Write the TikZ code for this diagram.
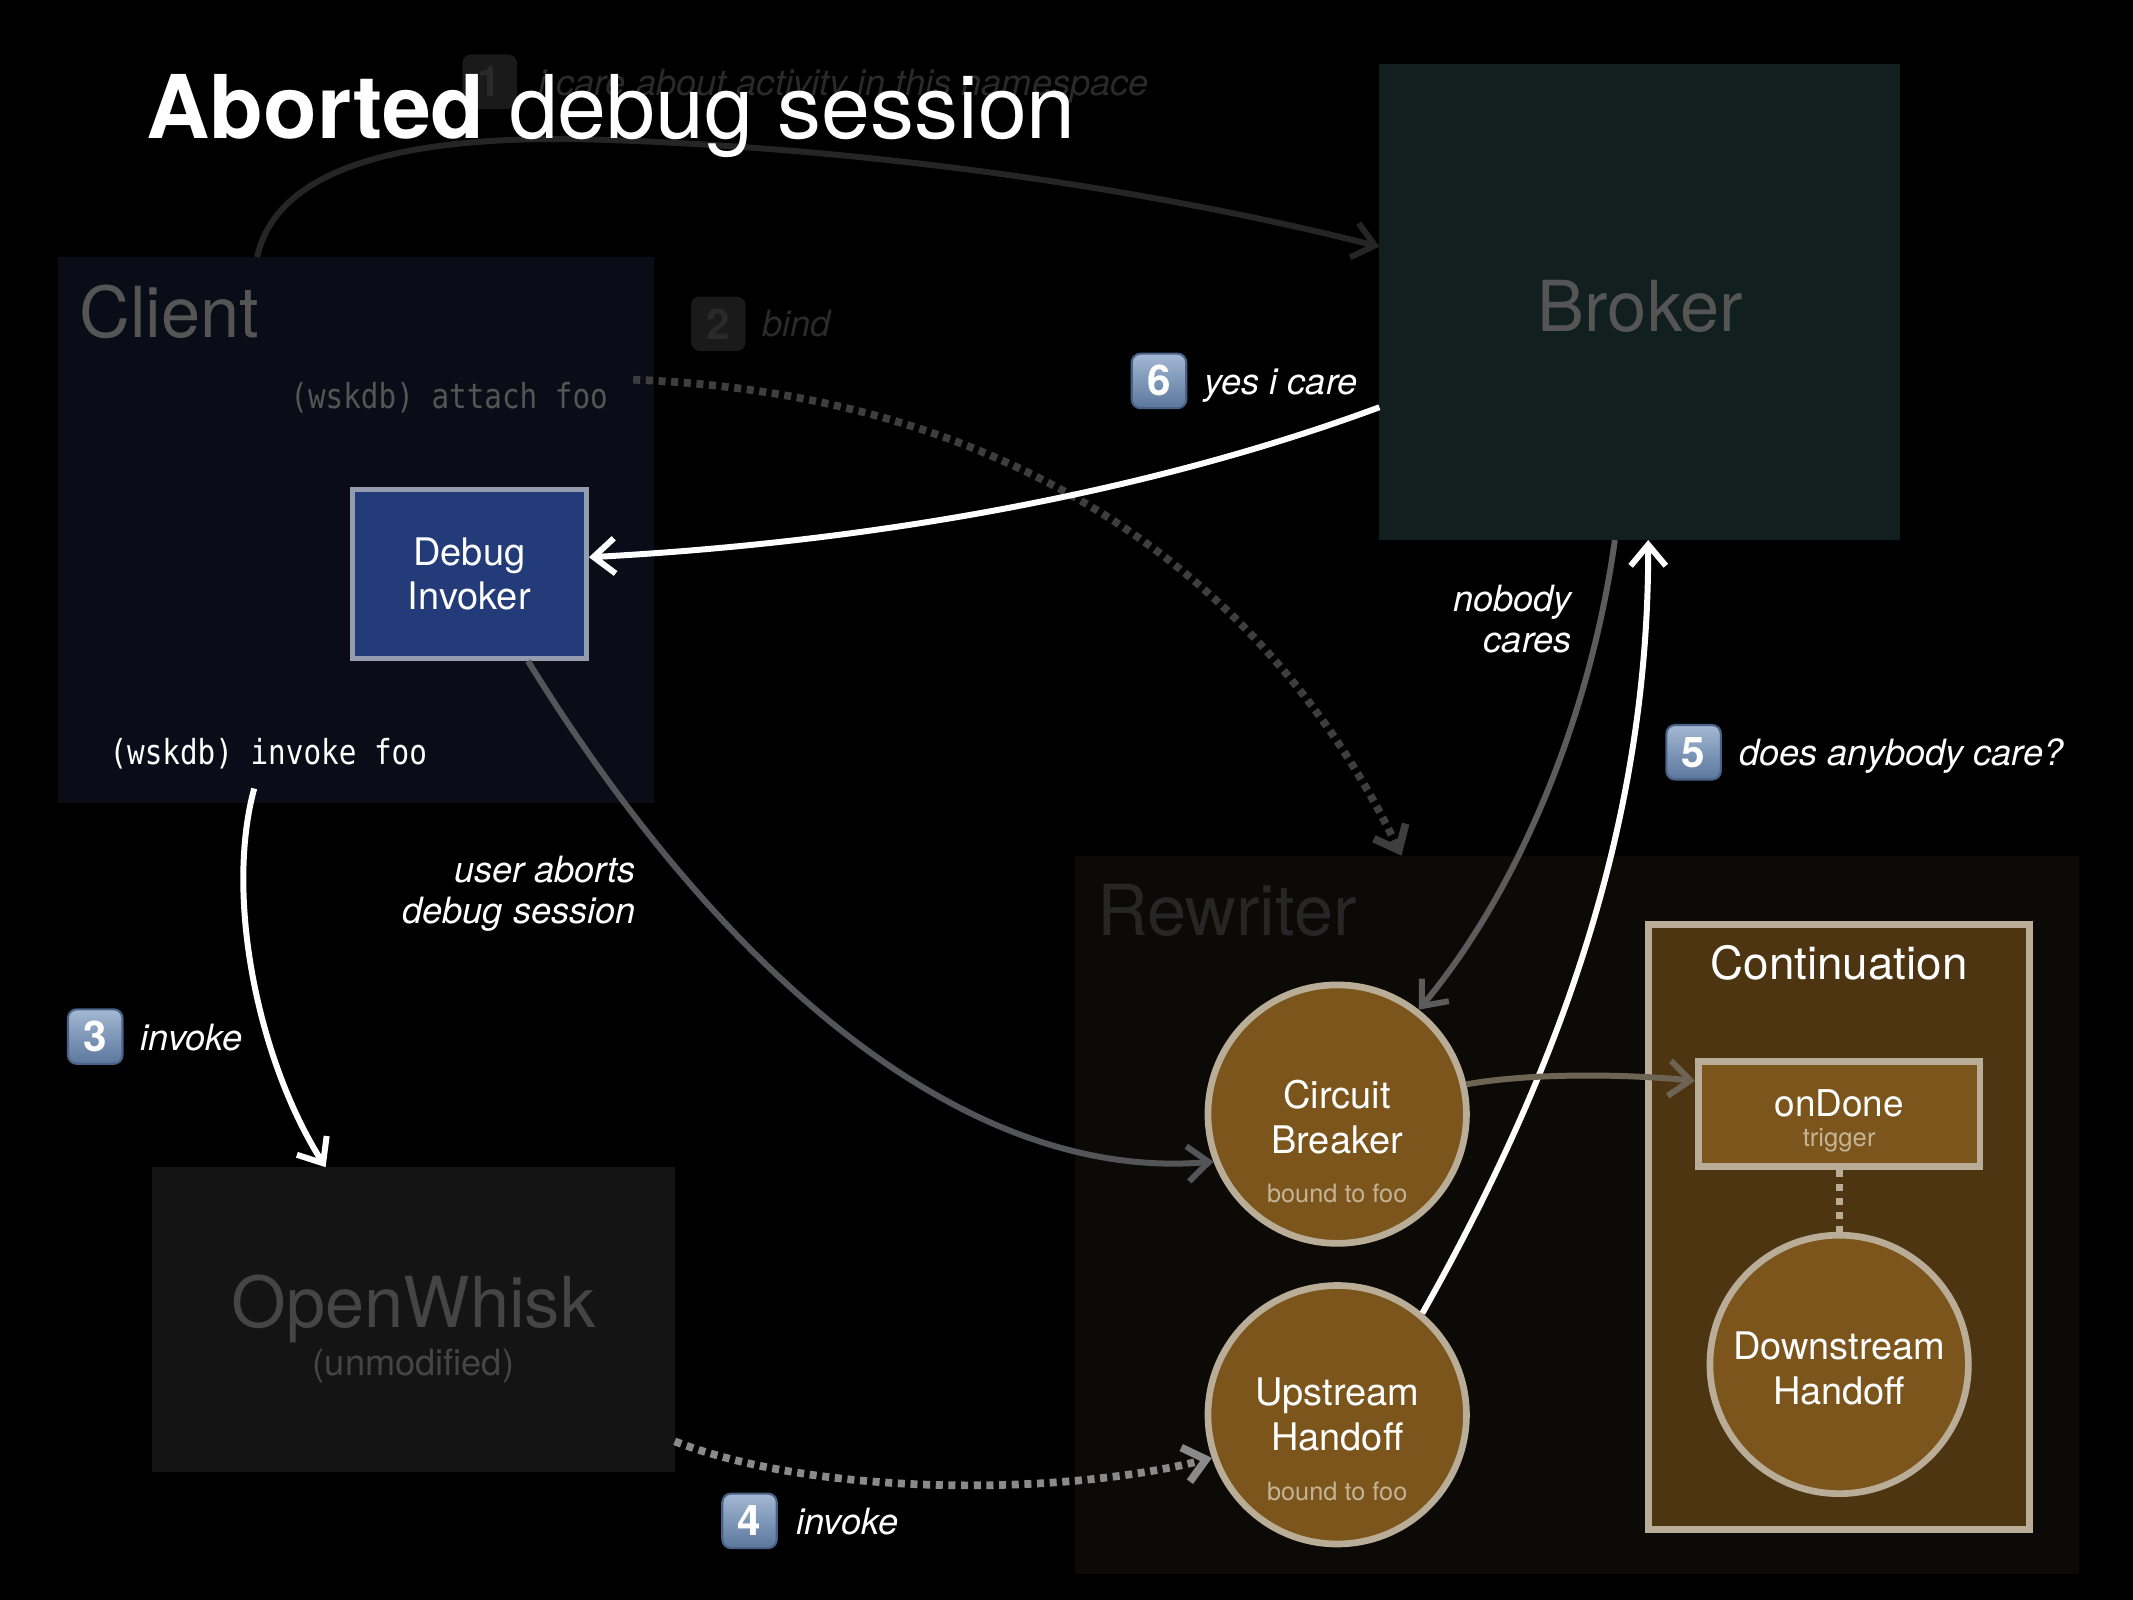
\documentclass[tikz,border=0pt]{standalone}
\usepackage{fontspec}
\setmainfont{TeX Gyre Heros}
\setmonofont[FakeStretch=0.85]{DejaVu Sans Mono}
\usetikzlibrary{arrows.meta}
\newlength\pxu
\setlength\pxu{0.013603cm}
\definecolor{clientbg}{HTML}{0A0D17}
\definecolor{brokerbg}{HTML}{111F1F}
\definecolor{rewriterbg}{HTML}{0B0A07}
\definecolor{owbg}{HTML}{141414}
\definecolor{contbg}{HTML}{4E3512}
\definecolor{bronze}{HTML}{7B551B}
\definecolor{beige}{HTML}{B9AD97}
\definecolor{boundtxt}{HTML}{C4B496}
\definecolor{invokerblue}{HTML}{233B78}
\definecolor{invokerrim}{HTML}{959CB0}
\definecolor{faintline}{HTML}{252525}
\definecolor{fainttext}{HTML}{2A2A2A}
\definecolor{faintbadge}{HTML}{1A1A1A}
\definecolor{dimtext}{HTML}{555555}
\definecolor{owtext}{HTML}{454545}
\definecolor{rewritertext}{HTML}{262626}
\definecolor{bindline}{HTML}{3E3E3E}
\definecolor{abortline}{HTML}{545559}
\definecolor{careline}{HTML}{5C5C5C}
\definecolor{doneline}{HTML}{6E6454}
\definecolor{invokeline}{HTML}{8A8A8A}
\definecolor{badgetop}{HTML}{A3B8D3}
\definecolor{badgebot}{HTML}{5B779D}
\definecolor{badgerim}{HTML}{4A6286}
\tikzset{
  % areas (client, broker, rewriter, openwhisk)
  region/.style={rectangle,anchor=north west,inner sep=0pt,outer sep=0pt},
  bigname/.style={inner xsep=0pt,font=\fontsize{20}{24}\selectfont},
  mono/.style={anchor=base west,inner xsep=0pt,font=\ttfamily\fontsize{9.8}{11}\selectfont},
  % brown actors inside the rewriter
  stage/.style={circle,draw=beige,line width=1.9pt,fill=bronze,minimum size=190\pxu,inner sep=0pt},
  stagetxt/.style={text=white,align=center,font=\fontsize{10.8}{12.7}\selectfont},
  bound/.style={text=boundtxt,font=\fontsize{7.2}{8}\selectfont},
  % numbered steps
  badge/.style={rounded corners=2.5pt,draw=badgerim,line width=0.6pt,top color=badgetop,bottom color=badgebot,
    minimum size=15.5pt,inner sep=0pt,text=white,font=\bfseries\fontsize{12}{12}\selectfont},
  fadedbadge/.style={rounded corners=2.5pt,fill=faintbadge,minimum size=15.5pt,inner sep=0pt,
    text=fainttext,font=\bfseries\fontsize{12}{12}\selectfont},
  steplabel/.style={anchor=base west,inner xsep=0pt,text=white,font=\itshape\fontsize{10.3}{12.4}\selectfont},
  note/.style={anchor=east,inner xsep=0pt,align=right,text=white,font=\itshape\fontsize{10.3}{11.6}\selectfont},
  % connectors
  flow/.style={line width=1.7pt,-{Straight Barb[length=6pt,width=10pt]}},
  dotflow/.style={flow,line width=2.2pt,dash pattern=on 2pt off 1.6pt},
}
\begin{document}
\begin{tikzpicture}[x=\pxu,y=-\pxu]
  \useasboundingbox (0,0) rectangle (1568,1176);
  \fill[black] (0,0) rectangle (1568,1176);
  % areas
  \node[region,fill=clientbg,minimum width=438\pxu,minimum height=401\pxu] (client) at (43,189) {};
  \node[region,fill=brokerbg,minimum width=383\pxu,minimum height=350\pxu] (broker) at (1014,47) {};
  \node[region,fill=rewriterbg,minimum width=738\pxu,minimum height=528\pxu] (rewriter) at (790,629) {};
  \node[region,fill=owbg,minimum width=384\pxu,minimum height=224\pxu] (ow) at (112,858) {};
  \node[bigname,text=dimtext,anchor=base west] (clientname) at (58,248) {Client};
  \node[bigname,text=dimtext] (brokername) at (1206,225) {Broker};
  \node[bigname,text=rewritertext,anchor=base west] (rewritername) at (806,688) {Rewriter};
  \node[bigname,text=owtext] (owname) at (304,962) {OpenWhisk};
  \node[text=owtext,font=\fontsize{10.3}{12}\selectfont] (owsub) at (304,1004) {(unmodified)};
  \node[mono,text=dimtext] (attach) at (213,300) {(wskdb) attach foo};
  \node[mono,text=white] (invoke) at (80,562) {(wskdb) invoke foo};
  \node[rectangle,draw=invokerrim,line width=1.5pt,fill=invokerblue,minimum width=172\pxu,minimum height=124\pxu,
    text=white,align=center,font=\fontsize{10.8}{12.7}\selectfont] (dbg) at (345,422) {Debug\\Invoker};
  % continuation
  \node[rectangle,draw=beige,line width=1.9pt,fill=contbg,minimum width=280\pxu,minimum height=445\pxu] (cont) at (1352,902) {};
  \node[text=white,font=\fontsize{13}{15}\selectfont] (contname) at (1352,708) {Continuation};
  \node[rectangle,draw=beige,line width=1.9pt,fill=bronze,minimum width=207\pxu,minimum height=77\pxu] (ondone) at (1352,819) {};
  \node[text=white,font=\fontsize{10.5}{12}\selectfont] (ondonename) at (1352,811) {onDone};
  \node[text=boundtxt,font=\fontsize{7.3}{8}\selectfont] (ondonesub) at (1352,838) {trigger};
  \node[stage] (ds) at (1352,1003) {};
  \node[stagetxt] (dsname) at (1352,1006) {Downstream\\Handoff};
  \draw[beige,line width=2pt,dash pattern=on 2pt off 2pt] (ondone.south) -- (ds.north);
  % rewriter actors
  \node[stage] (cb) at (983,819) {};
  \node[stagetxt] (cbname) at (983,821) {Circuit\\Breaker};
  \node[bound] (cbbound) at (983,877) {bound to foo};
  \node[stage] (uh) at (983,1040) {};
  \node[stagetxt] (uhname) at (983,1040) {Upstream\\Handoff};
  \node[bound] (uhbound) at (983,1096) {bound to foo};
  % faded steps 1 and 2
  \node[fadedbadge] (b1) at (360,60) {1};
  \node[steplabel,text=fainttext] (l1) at (395,70) {i care about activity in this namespace};
  \draw[flow,draw=faintline] (client.110) .. controls (205,115) and (320,98) .. (450,103)
    .. controls (650,110) and (850,140) .. (broker.168);
  \node[fadedbadge] (b2) at (528,238) {2};
  \node[steplabel,text=fainttext] (l2) at (560,247) {bind};
  \draw[dotflow,draw=bindline] ([xshift=7pt,yshift=5pt]attach.east) .. controls (760,290) and (940,440) .. (rewriter.116);
  % title
  \node[anchor=base west,inner xsep=0pt,text=white,font=\fontsize{25}{30}\selectfont] (title) at (107,102) {\textbf{Aborted} debug session};
  % step 3
  \draw[flow,white] ([xshift=-4pt,yshift=-2pt]invoke.south) .. controls (165,660) and (190,780) .. (ow.120);
  \node[badge] (b3) at (70,762) {3};
  \node[steplabel] (l3) at (103,772) {invoke};
  % step 4
  \draw[dotflow,draw=invokeline] (ow.-25) .. controls (600,1100) and (780,1100) .. (uh.199);
  \node[badge] (b4) at (551,1118) {4};
  \node[steplabel] (l4) at (585,1128) {invoke};
  % step 5
  \draw[flow,white] (uh.50) .. controls (1150,780) and (1212,600) .. (broker.272);
  \node[badge] (b5) at (1245,553) {5};
  \node[steplabel] (l5) at (1278,563) {does anybody care?};
  % nobody cares
  \draw[flow,draw=careline] (broker.264) .. controls (1170,520) and (1120,650) .. (cb.52);
  \node[note] (nobody) at (1156,455) {nobody\\cares};
  % step 6
  \draw[flow,white] (broker.202) .. controls (850,360) and (650,398) .. (dbg.8);
  \node[badge] (b6) at (852,280) {6};
  \node[steplabel] (l6) at (885,290) {yes i care};
  % abort
  \draw[flow,draw=abortline] (dbg.304) .. controls (520,700) and (700,870) .. (cb.201);
  \node[note] (abort) at (468,657) {user aborts\\debug session};
  \draw[flow,draw=doneline] (cb.13) .. controls (1130,788) and (1200,790) .. (ondone.167);
\end{tikzpicture}
\end{document}
